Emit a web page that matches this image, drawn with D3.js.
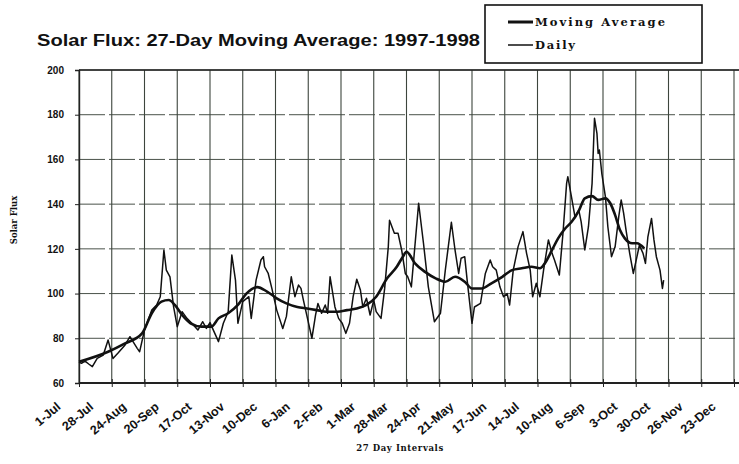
<!DOCTYPE html>
<html><head><meta charset="utf-8">
<script src="https://cdn.jsdelivr.net/npm/d3@7"></script>
<style>body{margin:0;background:#fff}svg{display:block}</style>
</head><body><svg id="c" width="739" height="464"></svg>
<script>
// ---- data ----
const categories = ["1-Jul","28-Jul","24-Aug","20-Sep","17-Oct","13-Nov","10-Dec","6-Jan","2-Feb","1-Mar","28-Mar","24-Apr","21-May","17-Jun","14-Jul","10-Aug","6-Sep","3-Oct","30-Oct","26-Nov","23-Dec"];
const intervalDays = 27;
const yTicks = [60,80,100,120,140,160,180,200];

// daily solar flux: day offset from 1-Jul-1997 and value
const dailyDays = [0,2,5,8,11,15,20,24,28,32,38,42,48,50,54,60,64,67,70,72,75,78,81,85,89,93,98,102,105,108,115,119,123,126,129,131,135,140,142,146,150,152,153,156,159,163,168,171,175,178,181,183,185,188,192,195,197,200,203,205,207,211,214,217,220,223,226,229,232,234,237,240,243,245,249,252,255,256,260,263,266,269,271,274,280,284,288,293,298,302,307,310,313,315,318,320,324,326,331,335,339,341,344,347,350,353,355,358,362,366,369,372,374,377,380,383,387,390,392,396,399,402,403,406,409,412,414,417,420,423,425,427,428,429,431,434,436,439,442,445,447,449,451,454,457,460,462,465,467,469,472,474,476,479,481,482];
const dailyValues = [69.5,68.8,69.8,68.5,67.3,71,72.5,79.2,71,73.3,77,80.7,75.5,74,83.7,92.6,94.9,98.6,119.5,110.5,107.5,94,85.2,91.9,88.9,86.7,83.7,87.4,84.4,87,78.5,86.7,91.9,117.2,106,86.7,96.4,98.6,88.9,106,115,116.5,112,109,102.3,92.6,84.4,89.8,107.5,98.6,103.8,102.3,97.1,89.8,80,90.4,95.6,91.2,94.9,91.2,107.5,94,88.9,86.7,82.2,86.7,98.6,106.4,101.6,94,97.9,90.4,97.1,91.9,88.9,102.3,121,132.8,127,127,119.5,109,107.5,103,140.4,122.5,103,87.4,91.2,110.5,131.9,119.5,109,115.8,116.5,106,86.7,94,95.6,109,115,112,110.5,103,98.6,100,94.9,110.5,121,127.7,118,110.5,98.6,104.6,98.6,110.5,124,118,115,108.3,127,149.3,152.3,143.3,134,137.4,132.1,119.5,129.9,149.3,178.4,171.7,162.7,164.2,153.8,143.3,129.9,116.5,121,134.4,141.9,136,128.4,118,109,116.5,121.7,118,113.5,125.4,133.6,124,116.5,110.5,102.3,106];

// 27-day moving average
const avgDays = [0,24,38,52,60,68,74,79,85,92,101,109,115,123,131,138,147,155,163,171,180,188,196,204,213,221,229,237,245,254,262,267,270,277,285,294,302,310,318,324,332,340,349,357,365,373,380,384,390,395,401,406,412,417,423,428,434,438,442,446,450,456,460,466];
const avgValues = [69.5,74,77.7,82.2,91.2,96.4,97.1,94.9,90.4,86.7,85.2,85.2,88.9,91.2,94.9,100,102.9,100.9,97.9,95.6,94,93.3,92.6,91.9,91.9,92.6,93.3,94.9,98.6,106.8,112,116.5,118.7,113.5,109.8,106.8,105.3,107.5,105.3,102.3,102.3,104.6,107.5,110.5,111.3,112,111.3,113.5,119.5,124.7,129.2,132,137,142.6,143.6,141.9,142.6,140.4,135.1,128.4,124.7,122.5,122.5,120.2];

// ---- drawing ----
const svg = d3.select("#c");
const plotLeft = 79, plotBottom = 383, plotTop = 70, plotRight = 739;
const x = d3.scaleLinear().domain([0, (categories.length-1)*intervalDays]).range([plotLeft, 734]);
const y = d3.scaleLinear().domain([60, 200]).range([plotBottom, plotTop]);
const grid = "#3d453d";

// horizontal gridlines
svg.append("g").selectAll("line").data(yTicks.filter(d=>d>60)).join("line")
  .attr("x1", plotLeft).attr("x2", plotRight).attr("y1", d=>y(d)).attr("y2", d=>y(d))
  .attr("stroke", "#4a524a").attr("stroke-width", 1).attr("stroke-dasharray", d=>d===200?null:"26,4");
// vertical gridlines
const tickDays = categories.map((c,i)=>i*intervalDays);
svg.append("g").selectAll("line").data(tickDays).join("line")
  .attr("x1", d=>x(d)).attr("x2", d=>x(d)).attr("y1", plotTop).attr("y2", plotBottom)
  .attr("stroke", grid).attr("stroke-width", 1.1);

// y axis
const yAxis = d3.axisLeft(y).tickValues(yTicks).tickSize(4).tickPadding(11);
const gy = svg.append("g").attr("transform", `translate(${plotLeft},0)`).call(yAxis);
gy.select(".domain").attr("stroke", "#222").attr("stroke-width", 1.4);
gy.selectAll(".tick line").attr("stroke", "#222");
gy.selectAll("text").attr("font-family", "Liberation Sans, Arial, sans-serif")
  .attr("font-weight", "bold").attr("font-size", 10).attr("fill", "#111");

// x axis
const xAxis = d3.axisBottom(x).tickValues(tickDays).tickSize(4).tickFormat((d,i)=>categories[i]);
const gx = svg.append("g").attr("transform", `translate(0,${plotBottom})`).call(xAxis);
gx.select(".domain").attr("stroke", "#222").attr("stroke-width", 1.8).attr("d", `M${plotLeft},0H${plotRight}`);
gx.selectAll(".tick line").attr("stroke", "#222").attr("y1", -4).attr("y2", 4);
gx.selectAll("text")
  .attr("font-family", "Liberation Sans, Arial, sans-serif").attr("font-weight", "bold")
  .attr("font-size", 12.5).attr("fill", "#111")
  .attr("text-anchor", "end").attr("dy", null).attr("y", 0)
  .attr("transform", "translate(-18,25) rotate(-40)");

// top border
svg.append("line").attr("x1", plotLeft).attr("x2", plotRight).attr("y1", plotTop).attr("y2", plotTop)
  .attr("stroke", "#222").attr("stroke-width", 1.4);

// lines
const lineGen = d3.line().x(d=>x(d[0])).y(d=>y(d[1]));
const daily = dailyDays.map((d,i)=>[d, dailyValues[i]]);
const avg = avgDays.map((d,i)=>[d, avgValues[i]]);
const avgCurve = d3.line().x(d=>x(d[0])).y(d=>y(d[1])).curve(d3.curveMonotoneX);
svg.append("path").datum(daily).attr("d", lineGen)
  .attr("fill", "none").attr("stroke", "#111").attr("stroke-width", 1.5).attr("stroke-linejoin", "round");
svg.append("path").datum(avg).attr("d", avgCurve)
  .attr("fill", "none").attr("stroke", "#111").attr("stroke-width", 2.6).attr("stroke-linejoin", "round");

// title
svg.append("text").attr("x", 37).attr("y", 46)
  .attr("font-family", "Liberation Sans, Arial, sans-serif").attr("font-weight", "bold")
  .attr("font-size", 16).attr("fill", "#111").attr("textLength", 443).attr("lengthAdjust", "spacingAndGlyphs")
  .text("Solar Flux: 27-Day Moving Average: 1997-1998");

// legend
const lg = svg.append("g");
lg.append("rect").attr("x", 485).attr("y", 5).attr("width", 217).attr("height", 58)
  .attr("fill", "#fff").attr("stroke", "#111").attr("stroke-width", 1.6);
lg.append("line").attr("x1", 508).attr("x2", 533).attr("y1", 22).attr("y2", 22).attr("stroke", "#111").attr("stroke-width", 3);
lg.append("line").attr("x1", 508).attr("x2", 533).attr("y1", 45).attr("y2", 45).attr("stroke", "#111").attr("stroke-width", 1.5);
lg.append("text").attr("x", 535).attr("y", 26).attr("font-family", "DejaVu Serif, serif").attr("font-weight", "bold")
  .attr("font-size", 11.5).attr("fill", "#111").attr("textLength", 130).attr("lengthAdjust", "spacing").text("Moving Average");
lg.append("text").attr("x", 535).attr("y", 49).attr("font-family", "DejaVu Serif, serif").attr("font-weight", "bold")
  .attr("font-size", 11.5).attr("fill", "#111").attr("textLength", 40).attr("lengthAdjust", "spacing").text("Daily");

// axis titles
svg.append("text").attr("transform", "translate(17,220) rotate(-90)").attr("text-anchor", "middle")
  .attr("font-family", "DejaVu Serif, serif").attr("font-weight", "bold").attr("font-size", 8.5).attr("fill", "#111")
  .text("Solar Flux");
svg.append("text").attr("x", 400).attr("y", 451).attr("text-anchor", "middle")
  .attr("font-family", "DejaVu Serif, serif").attr("font-weight", "bold").attr("font-size", 8.5).attr("fill", "#111")
  .attr("letter-spacing", 0.6).text("27 Day Intervals");
</script></body></html>
